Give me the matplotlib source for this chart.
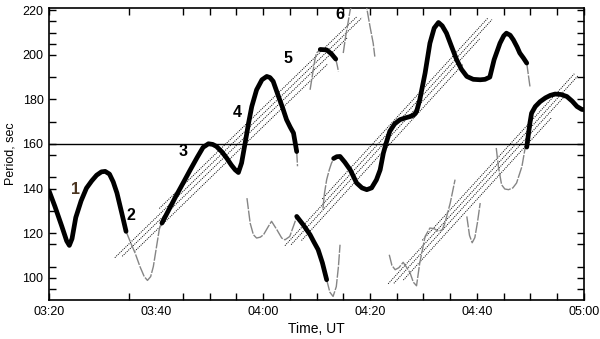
import matplotlib
matplotlib.use("Agg")
import matplotlib.pyplot as plt
from matplotlib.ticker import FuncFormatter

plt.rcParams['font.family'] = ['Liberation Sans', 'DejaVu Sans']

# time in minutes after 00:00 UT, period in seconds
# thick black segments
seg_a_t = [200, 201.1, 202.4, 203.3, 203.8, 204.3, 205.0, 206.0, 207.0, 208.0, 208.9, 209.8,
           210.5, 211.3, 212.0, 212.7, 213.6, 214.4]
seg_a_v = [139, 132, 123, 116.5, 114.5, 117.5, 127, 134.5, 140.2, 143.5, 146, 147.5,
           147.7, 146.5, 143, 138, 129, 120.8]

seg_b_t = [221.1, 222.4, 223.7, 225.0, 226.4, 227.7, 228.8, 229.8, 230.6, 231.3, 232.3, 233.2,
           234.1, 234.8, 235.4, 236.0, 236.6, 237.3, 237.9, 238.8, 239.8, 240.7, 241.3, 241.9,
           242.9, 243.7, 244.4, 245.1, 245.7, 246.3]
seg_b_v = [124.5, 130.5, 136.5, 142.2, 148.4, 154, 158.5, 160.1, 159.8, 158.9, 156.5, 153.7,
           150.5, 148.4, 147.2, 151.5, 159.6, 169.4, 176.8, 184.3, 188.8, 190.3, 189.8, 188.1,
           181.3, 176, 170.9, 167.5, 164.9, 156.6]

seg_c_t = [246.3, 247.5, 248.8, 249.5, 250.3, 251.1, 251.9]
seg_c_v = [127.5, 123.8, 119.3, 116.1, 112.6, 106.7, 99.1]

seg_d_t = [250.7, 251.9, 252.8, 253.6]
seg_d_v = [202.4, 202.2, 200.4, 198.1]

seg_f_t = [253.2, 253.8, 254.4, 255.3, 256.3, 257.5, 258.5, 259.4, 260.3, 261.2, 261.9, 262.5,
           263.1, 263.7, 264.6, 265.6, 266.6, 267.5, 268.2, 268.7, 269.3, 270.3, 271.2, 272.0,
           272.8, 273.5, 274.3, 275.2, 276.2, 277.1, 278.1, 279.3, 280.6, 281.5, 282.4, 283.2,
           284.3, 285.0, 285.5, 286.2, 286.8, 287.5, 288.0, 288.7, 289.3]
seg_f_v = [153.5, 154.3, 154.4, 151.8, 148.4, 142.5, 140.3, 139.5, 140.3, 143.9, 148.4, 155.9,
           161, 165.7, 169, 170.9, 171.7, 172.3, 173, 174.5, 179.8, 191.8, 205.2, 212,
           214.5, 213, 209.7, 204, 197.8, 193.5, 190.3, 189, 188.8, 189, 190, 197.8,
           205.2, 208.5, 209.7, 208.8, 206.7, 203.5, 200.8, 198.5, 196.3]

seg_g_t = [289.3, 289.6, 289.9, 290.2, 290.9, 291.8, 292.8, 293.7, 294.6, 295.7, 296.8, 297.8,
           298.7, 299.6, 300.5]
seg_g_v = [158.6, 164.1, 169.5, 173.8, 176.8, 179, 180.7, 181.8, 182.4, 182.2, 181.3, 179.2,
           176.8, 175.5, 175.3]

# thin grey segments
grey_1_t = [214.4, 215.3, 216.1, 217.0, 217.8, 218.4, 219.0, 219.5, 220.1, 220.6, 221.0]
grey_1_v = [120.8, 115.5, 111, 105, 100.5, 98.8, 100.5, 105, 114, 121.5, 125]

grey_2_t = [246.3, 246.45]
grey_2_v = [156.6, 150]

grey_3_t = [237.0, 237.6, 238.2, 238.8, 239.5, 240.1, 241.0, 241.6, 242.6, 243.5, 244.1,
            245.0, 246.0, 246.3]
grey_3_v = [135.7, 124.5, 119.3, 117.8, 118.2, 119.3, 123, 125.3, 121.5, 117.8, 117,
            118.5, 125.2, 127.5]

grey_4_t = [251.9, 252.5, 253.1, 253.7, 254.1, 254.4]
grey_4_v = [99.1, 93.5, 91.6, 96, 105, 114.8]

grey_5_t = [251.2, 251.5, 251.9, 252.4, 252.8, 253.2]
grey_5_v = [131, 138, 144, 148.5, 151.4, 153.2]

grey_6_t = [248.8, 249.1, 249.7, 250.0, 250.7]
grey_6_v = [184.3, 188.8, 197.8, 200.8, 202.4]

grey_7_t = [253.6, 253.9, 254.1]
grey_7_v = [198.1, 195, 192.5]

grey_8_t = [255.0, 255.4, 255.9, 256.3, 257.3, 258.4, 259.4, 260.0, 260.6, 260.9]
grey_8_v = [200.8, 207.5, 214.5, 220.2, 227, 227, 220.9, 212.7, 205.2, 199.2]

grey_9_t = [263.6, 264.1, 264.7, 265.4, 266.2, 266.9, 267.5, 268.1, 268.7, 269.3, 270.3,
            271.2, 272.0, 272.8, 273.5, 274.0, 275.0, 275.9]
grey_9_v = [110.3, 105.5, 103.6, 104.5, 106.9, 104.5, 102.1, 98, 96.4, 106.6, 118.5,
            122.3, 122, 120.8, 121.5, 124.5, 133.5, 144]

grey_10_t = [278.1, 278.6, 279.1, 279.6, 280.1, 280.6]
grey_10_v = [127.5, 119, 115.7, 118, 125, 133.5]

grey_11_t = [283.6, 284.0, 284.6, 285.2, 285.9, 286.7, 287.4, 288.4, 289.0]
grey_11_v = [158.2, 149.9, 141.7, 139.8, 139.5, 140.3, 142.5, 149.9, 158.2]

grey_12_t = [289.3, 289.6, 289.9]
grey_12_v = [196.3, 191, 185.8]

# drift bands: start time, end time, period at start, slope (sec per min)
band_t0 = [212.3, 244.1, 263.4]
band_t1 = [258.5, 282.8, 298.9]
band_v0 = [107.2, 112.6, 95.5]
band_slope = [2.33, 2.62, 2.63]
band_offsets = [4.5, 1.8, -0.8, -4.0]

# numbered labels
label_text = ['1', '2', '3', '4', '5', '6']
label_t = [204.9, 215.4, 225.1, 235.1, 244.7, 254.4]
label_v = [139.5, 128.1, 156.6, 173.9, 198.5, 217.9]
label_color = ['#4a3420', 'black', 'black', 'black', 'black', 'black']

black_segs = [(seg_a_t, seg_a_v), (seg_b_t, seg_b_v), (seg_c_t, seg_c_v),
              (seg_d_t, seg_d_v), (seg_f_t, seg_f_v), (seg_g_t, seg_g_v)]
grey_segs = [(grey_1_t, grey_1_v), (grey_2_t, grey_2_v), (grey_3_t, grey_3_v),
             (grey_4_t, grey_4_v), (grey_5_t, grey_5_v), (grey_6_t, grey_6_v),
             (grey_7_t, grey_7_v), (grey_8_t, grey_8_v), (grey_9_t, grey_9_v),
             (grey_10_t, grey_10_v), (grey_11_t, grey_11_v), (grey_12_t, grey_12_v)]


def hhmm(x, pos=None):
    return f"{int(x // 60):02d}:{int(round(x % 60)):02d}"


fig = plt.figure(figsize=(6.0, 3.39), dpi=100)
ax = fig.add_axes([0.0817, 0.115, 0.8916, 0.8614])

# drift bands (bundles of dotted lines)
stagger = [(0.18, 0.02), (0.0, 0.0), (0.03, 0.06), (0.08, 0.14)]
for t0, t1, v0, s in zip(band_t0, band_t1, band_v0, band_slope):
    span = t1 - t0
    for off, (a, b) in zip(band_offsets, stagger):
        ts = t0 + a * span
        te = t1 - b * span
        ax.plot([ts, te], [v0 + s * (ts - t0) + off, v0 + s * (te - t0) + off],
                color='black', lw=0.7, ls=(0, (1, 1.2)), zorder=2)

for t, v in grey_segs:
    ax.plot(t, v, color='#858585', lw=1.0, ls=(0, (8, 1)), zorder=3)

for t, v in black_segs:
    ax.plot(t, v, color='black', lw=3.4, solid_capstyle='round',
            solid_joinstyle='round', zorder=4)

ax.axhline(160, color='black', lw=1.0, zorder=1)

for txt, t, v, c in zip(label_text, label_t, label_v, label_color):
    ax.text(t, v, txt, color=c, fontsize=11.5, fontweight='bold', ha='center', va='center')

ax.set_xlim(200, 300)
ax.set_ylim(90, 221)

ax.set_xticks([200, 220, 240, 260, 280, 300])
ax.set_xticks([215, 225, 230, 235, 245, 250, 255, 265, 270, 275, 285, 290, 295], minor=True)
ax.xaxis.set_major_formatter(FuncFormatter(hhmm))
ax.set_yticks([100, 120, 140, 160, 180, 200, 220])
ax.set_yticks([95, 105, 115, 130, 145, 155, 170, 190, 205, 210, 215], minor=True)

ax.tick_params(which='both', direction='in', top=True, right=True, length=5, width=1,
               labelsize=9, pad=4)
for tk in ax.xaxis.get_major_ticks()[1:2]:
    tk.tick1line.set_visible(False)
    tk.tick2line.set_visible(False)

for sp in ax.spines.values():
    sp.set_linewidth(1.2)

ax.set_xlabel('Time, UT', fontsize=10, labelpad=3)
ax.set_ylabel('Period, sec', fontsize=9, labelpad=4)

fig.savefig('out.png', dpi=100)
